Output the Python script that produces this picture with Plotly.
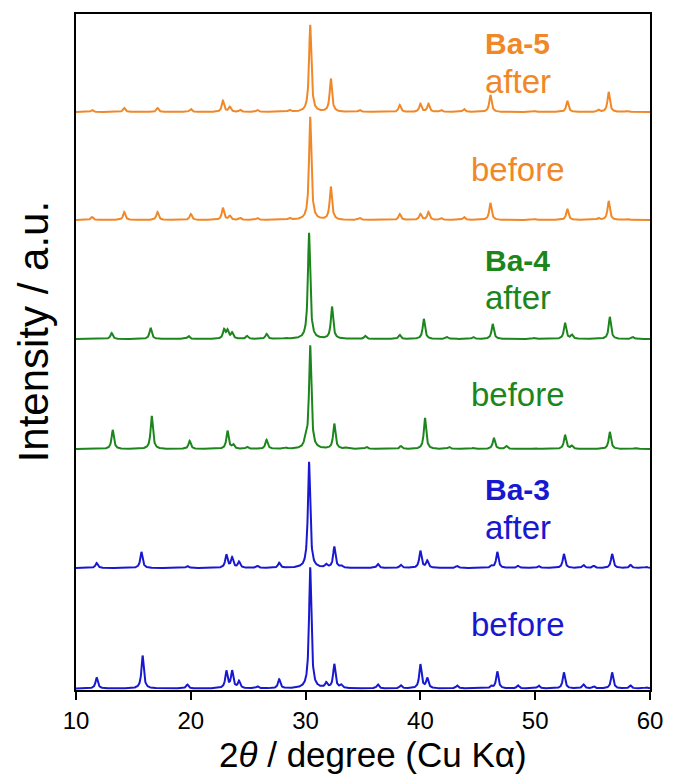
import numpy as np
import plotly.graph_objects as go

# ---- data: peak positions (deg 2theta) and heights (a.u.) ----
ba3_before_pos = [11.8, 15.8, 19.7, 23.1, 23.6, 24.2, 25.8, 27.7, 30.4, 31.8, 32.5, 33.1,
                  36.3, 38.3, 40.0, 40.6, 43.2, 46.2, 46.7, 48.5, 50.3, 52.5, 54.2, 55.1,
                  56.7, 58.3, 59.7]
ba3_before_h = [11, 33, 4, 17, 17, 7, 2, 9, 121, 5, 24, 3,
                4, 3, 24, 10, 3, 2, 17, 3, 3, 16, 4, 2,
                16, 3, 1]

ba3_after_pos = [11.8, 15.7, 19.7, 23.1, 23.6, 24.2, 25.8, 27.7, 30.3, 31.8, 32.5, 33.1,
                 36.3, 38.3, 40.0, 40.6, 43.2, 46.2, 46.7, 48.5, 50.3, 52.5, 54.2, 55.1,
                 56.7, 58.3, 59.7]
ba3_after_h = [5, 16, 2, 13, 10, 6, 2, 5, 106, 3, 21, 2,
               4, 3, 17, 7, 2, 2, 16, 2, 2, 14, 3, 2,
               14, 3, 1]

ba4_before_pos = [13.2, 16.6, 19.9, 23.2, 23.7, 24.9, 26.6, 28.3, 30.0, 30.4, 32.5, 33.5,
                  35.3, 38.3, 40.4, 42.5, 44.6, 46.4, 47.5, 50.0, 52.6, 53.2, 56.5, 58.7]
ba4_before_h = [19, 33, 8, 18, 4, 2, 9, 1, 8, 103, 25, 1,
                2, 3, 31, 2, 1, 11, 3, 1, 14, 3, 17, 1]

ba4_after_pos = [13.1, 16.5, 19.8, 22.9, 23.2, 23.6, 24.9, 26.6, 28.3, 30.3, 32.3, 35.2,
                 38.2, 40.3, 42.3, 44.6, 46.3, 49.9, 52.6, 53.2, 56.5, 58.5]
ba4_after_h = [6, 11, 3, 9, 8, 6, 3, 5, 1, 106, 32, 3,
               4, 20, 2, 2, 15, 1, 16, 4, 22, 2]

ba5_before_pos = [11.4, 14.2, 17.1, 20.0, 22.8, 23.4, 24.3, 25.8, 28.6, 30.4, 32.2, 34.7,
                  38.2, 40.0, 40.7, 41.8, 43.8, 46.1, 49.9, 52.8, 55.5, 56.4, 58.0]
ba5_before_h = [3, 8, 8, 6, 12, 4, 2, 2, 2, 103, 33, 2,
                6, 6, 8, 2, 3, 17, 1, 11, 2, 19, 1]

ba5_after_pos = [11.4, 14.2, 17.1, 20.0, 22.8, 23.4, 24.3, 25.8, 28.6, 30.4, 32.2, 34.7,
                 38.2, 40.0, 40.7, 41.8, 43.8, 46.1, 49.9, 52.8, 55.5, 56.4, 58.0]
ba5_after_h = [2, 4, 4, 3, 11, 5, 2, 2, 2, 87, 33, 2,
               7, 8, 8, 2, 3, 17, 1, 11, 2, 20, 1]

# vertical stacking offsets of each pattern (a.u.)
offsets = [1.5, 122, 241, 351, 470, 578]

labels = ["Ba-3 before", "Ba-3 after", "Ba-4 before", "Ba-4 after", "Ba-5 before", "Ba-5 after"]

ORANGE = "rgb(240,136,40)"
GREEN = "rgb(28,134,28)"
BLUE = "rgb(24,24,208)"

series = [
    (ba3_before_pos, ba3_before_h, BLUE),
    (ba3_after_pos, ba3_after_h, BLUE),
    (ba4_before_pos, ba4_before_h, GREEN),
    (ba4_after_pos, ba4_after_h, GREEN),
    (ba5_before_pos, ba5_before_h, ORANGE),
    (ba5_after_pos, ba5_after_h, ORANGE),
]

# rendering grid and peak profile width (style)
x_grid = np.arange(10.0, 60.0001, 0.02)
HWHM = 0.12


def profile(pos, h, off):
    y = np.full_like(x_grid, off)
    for p, hh in zip(pos, h):
        y += hh / (1.0 + ((x_grid - p) / HWHM) ** 2)
    return y


fig = go.Figure()
for (pos, h, col), off, name in zip(series, offsets, labels):
    fig.add_trace(go.Scatter(x=x_grid, y=profile(pos, h, off), mode="lines",
                             line=dict(color=col, width=2), name=name,
                             showlegend=False, hoverinfo="skip"))

FONT = "Liberation Sans, Arial, sans-serif"
texts = [
    ("<b>Ba-5</b>", 647, ORANGE, 30),
    ("after", 609, ORANGE, 33),
    ("before", 521, ORANGE, 33),
    ("<b>Ba-4</b>", 430, GREEN, 30),
    ("after", 393, GREEN, 33),
    ("before", 296, GREEN, 33),
    ("<b>Ba-3</b>", 201, BLUE, 30),
    ("after", 163, BLUE, 33),
    ("before", 66, BLUE, 33),
]
for t, yy, col, fs in texts:
    fig.add_annotation(x=48.5, y=yy, xref="x", yref="y", text=t, showarrow=False,
                       xanchor="center", yanchor="middle",
                       font=dict(family=FONT, size=fs, color=col))

# axis titles
fig.add_annotation(x=(376 - 76) / (655 - 76), y=(690 - 754) / 676, xref="paper", yref="paper",
                   text="2<i>θ</i> / degree (Cu Kα)", showarrow=False,
                   xanchor="center", yanchor="middle",
                   font=dict(family=FONT, size=35, color="black"))
fig.add_annotation(x=(33 - 76) / (655 - 76), y=(690 - 332) / 676, xref="paper", yref="paper",
                   text="Intensity / a.u.", showarrow=False, textangle=-90,
                   xanchor="center", yanchor="middle",
                   font=dict(family=FONT, size=42, color="black"))

fig.update_xaxes(range=[10, 60], tickvals=[10, 20, 30, 40, 50, 60],
                 ticks="outside", ticklen=8, tickwidth=2, tickcolor="black",
                 showline=True, linecolor="black", linewidth=2, mirror=True,
                 showgrid=False, zeroline=False,
                 tickfont=dict(family=FONT, size=24, color="black"))
fig.update_yaxes(range=[0, 676], showticklabels=False, ticks="",
                 showline=True, linecolor="black", linewidth=2, mirror=True,
                 showgrid=False, zeroline=False)

fig.update_layout(width=675, height=774,
                  margin=dict(l=76, r=20, t=14, b=84),
                  plot_bgcolor="white", paper_bgcolor="white")

fig.write_html("out.html")
